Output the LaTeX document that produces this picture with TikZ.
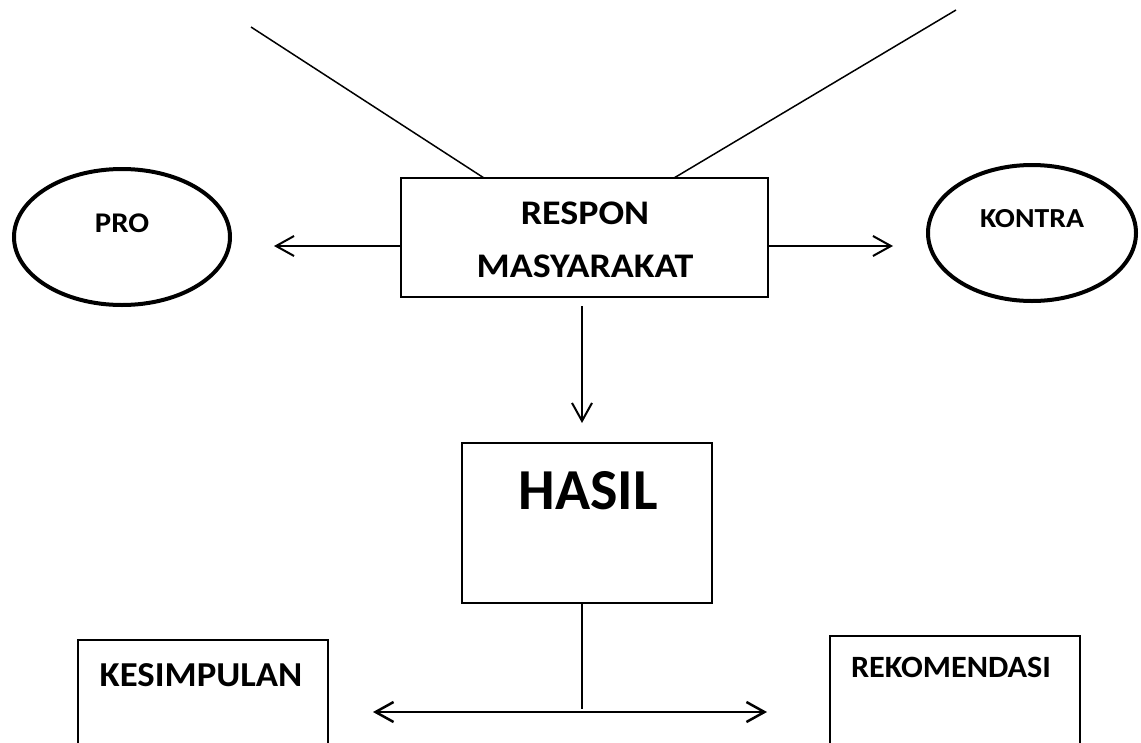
\documentclass[tikz,border=0pt]{standalone}
\usepackage{fontspec}
\setmainfont{Carlito}
\usetikzlibrary{arrows.meta,shapes.geometric}
\begin{document}
\begin{tikzpicture}[x=1pt,y=-1pt,
  box/.style={draw=black, line width=1.3pt, inner sep=0pt, rectangle},
  oval/.style={draw=black, line width=4pt, ellipse, inner sep=0pt},
  lbl/.style={font=\bfseries, inner sep=0pt, text=black},
  thin/.style={line width=1.5pt},
  arr/.style={line width=2pt, -{Straight Barb[length=18pt,width=20pt]}},
  darr/.style={line width=2.5pt, {Straight Barb[length=18pt,width=20pt]}-{Straight Barb[length=18pt,width=20pt]}}
]
\clip (0,0) rectangle (1141,742);
\fill[white] (0,0) rectangle (1141,742);

% boxes
\node[box, minimum width=367pt, minimum height=119pt] (respon) at (584.5,237.5) {};
\node[box, minimum width=250pt, minimum height=160pt] (hasil) at (587,523) {};
\node[box, minimum width=250pt, minimum height=130pt] (kes) at (203,705) {};
\node[box, minimum width=250pt, minimum height=134pt] (rek) at (955,703) {};

% ellipses
\node[oval, minimum width=216pt, minimum height=136pt] (pro) at (122,237) {};
\node[oval, minimum width=208pt, minimum height=136pt] (kontra) at (1032,233) {};

% texts
\node[lbl, font=\fontsize{34.5}{40}\selectfont\bfseries, xscale=1.1, transform shape] (t1) at (585,213) {RESPON};
\node[lbl, font=\fontsize{34.5}{40}\selectfont\bfseries, xscale=1.1, transform shape] (t2) at (585,266) {MASYARAKAT};
\node[lbl, font=\fontsize{58}{66}\selectfont\bfseries] (t3) at (588,491) {HASIL};
\node[lbl, font=\fontsize{35}{40}\selectfont\bfseries, xscale=1.05, transform shape] (t4) at (201,675) {KESIMPULAN};
\node[lbl, font=\fontsize{31}{36}\selectfont\bfseries, xscale=1.04, transform shape] (t5) at (951,667) {REKOMENDASI};
\node[lbl, font=\fontsize{28.5}{32}\selectfont\bfseries, xscale=1.08, transform shape] (t6) at (122,223) {PRO};
\node[lbl, font=\fontsize{27.5}{32}\selectfont\bfseries, xscale=1.08, transform shape] (t7) at (1032,219) {KONTRA};

% free ends
\coordinate (tl) at (251,27);
\coordinate (tr) at (956,10);
\coordinate (tlb) at (484,178);
\coordinate (trb) at (674,178);
\coordinate (pl) at (274,246);
\coordinate (pr) at (893,246);
\coordinate (ds) at (582,306);
\coordinate (de) at (582,423);
\coordinate (hb) at (582,709);
\coordinate (al) at (373,712);
\coordinate (ar) at (767,712);

% connectors
\draw[thin] (tl) -- (tlb);
\draw[thin] (tr) -- (trb);
\draw[arr] (respon.west |- pl) -- (pl);
\draw[arr] (respon.east |- pr) -- (pr);
\draw[arr] (ds) -- (de);
\draw[thin] (hasil.south -| hb) -- (hb);
\draw[darr] (al) -- (ar);
\end{tikzpicture}
\end{document}
